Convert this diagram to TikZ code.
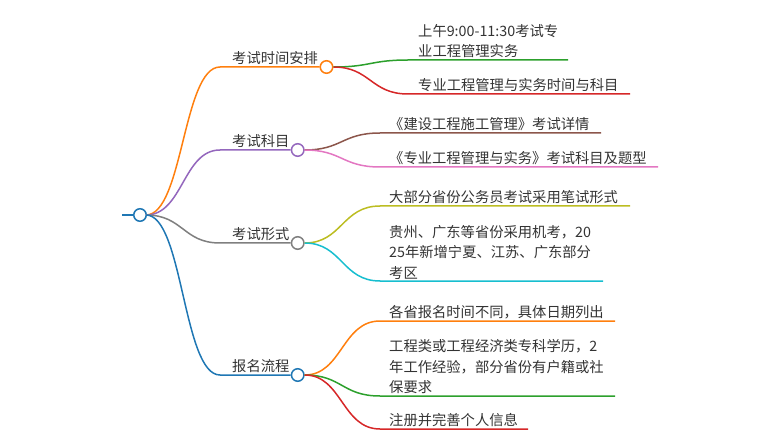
\documentclass[tikz,border=0pt]{standalone}
\usepackage{fontspec}
\newfontfamily\cjk{Noto Sans CJK SC}
\definecolor{cOrange}{HTML}{FF7F0E}
\definecolor{cPurple}{HTML}{9467BD}
\definecolor{cGray}{HTML}{7F7F7F}
\definecolor{cBlue}{HTML}{1F77B4}
\definecolor{cGreen}{HTML}{2CA02C}
\definecolor{cRed}{HTML}{D62728}
\definecolor{cBrown}{HTML}{8C564B}
\definecolor{cPink}{HTML}{E377C2}
\definecolor{cOlive}{HTML}{BCBD22}
\definecolor{cCyan}{HTML}{17BECF}
\definecolor{cText}{HTML}{333333}
\tikzset{
  lbl/.style={anchor=base west, inner sep=0pt, text=cText, font=\cjk\fontsize{14.3}{20.5}\selectfont},
  dot/.style={circle, draw, fill=white, line width=1.5pt, minimum size=12.5pt, inner sep=0pt},
  link/.style={line width=1.5pt},
}
\newcommand{\ml}[1]{\begin{tabular}[b]{@{}l@{}}#1\end{tabular}}
\begin{document}
\begin{tikzpicture}[x=1pt,y=-1pt]
\useasboundingbox (0,0) rectangle (780,441);
% root
\node[dot, draw=cBlue] (root) at (140,215) {};
\coordinate (rl) at (122,215);
\draw[cBlue, line width=2.5pt] (rl) -- (root.west);
% branch nodes
\node[dot, draw=cOrange] (b1) at (326.5,67) {};
\node[dot, draw=cPurple] (b2) at (297.7,150) {};
\node[dot, draw=cGray] (b3) at (297.7,243) {};
\node[dot, draw=cBlue] (b4) at (297.7,375) {};
\coordinate (h1) at (220,67);
\coordinate (h2) at (220,150);
\coordinate (h3) at (220,243);
\coordinate (h4) at (220,375);
\coordinate (rs) at (146,215);
\draw[link, cOrange] (rs) .. controls (183,215) and (183,67) .. (h1) -- (b1.west);
\draw[link, cPurple] (rs) .. controls (183,215) and (183,150) .. (h2) -- (b2.west);
\draw[link, cGray] (rs) .. controls (183,215) and (183,243) .. (h3) -- (b3.west);
\draw[link, cBlue] (rs) .. controls (183,215) and (183,375) .. (h4) -- (b4.west);
\node[lbl] (t1) at (232,63.5) {考试时间安排};
\node[lbl] (t2) at (232,146.5) {考试科目};
\node[lbl] (t3) at (232,239.5) {考试形式};
\node[lbl] (t4) at (232,371.5) {报名流程};
% branch 1 children
\coordinate (a1) at (408,60); \coordinate (e1) at (568,60);
\coordinate (a2) at (408,94); \coordinate (e2) at (630,94);
\draw[link, cGreen] (b1.east) .. controls (370.5,67) and (370.5,60) .. (a1) -- (e1);
\draw[link, cRed] (b1.east) .. controls (370.5,67) and (370.5,94) .. (a2) -- (e2);
\node[lbl] (c1) at (418,57) {\ml{上午9:00-11:30考试专\\业工程管理实务}};
\node[lbl] (c2) at (418,90.5) {专业工程管理与实务时间与科目};
% branch 2 children
\coordinate (a3) at (380,133); \coordinate (e3) at (601,133);
\coordinate (a4) at (380,167); \coordinate (e4) at (658,167);
\draw[link, cBrown] (b2.east) .. controls (342,150) and (342,133) .. (a3) -- (e3);
\draw[link, cPink] (b2.east) .. controls (342,150) and (342,167) .. (a4) -- (e4);
\node[lbl] (c3) at (389,129.5) {《建设工程施工管理》考试详情};
\node[lbl] (c4) at (389,163.5) {《专业工程管理与实务》考试科目及题型};
% branch 3 children
\coordinate (a5) at (380,206); \coordinate (e5) at (630,206);
\coordinate (a6) at (380,281); \coordinate (e6) at (603,281);
\draw[link, cOlive] (b3.east) .. controls (342,243) and (342,206) .. (a5) -- (e5);
\draw[link, cCyan] (b3.east) .. controls (342,243) and (342,281) .. (a6) -- (e6);
\node[lbl] (c5) at (389,202.5) {大部分省份公务员考试采用笔试形式};
\node[lbl] (c6) at (389,278) {\ml{贵州、广东等省份采用机考，20\\25年新增宁夏、江苏、广东部分\\考区}};
% branch 4 children
\coordinate (a7) at (380,321); \coordinate (e7) at (615,321);
\coordinate (a8) at (380,396); \coordinate (e8) at (615,396);
\coordinate (a9) at (380,429); \coordinate (e9) at (528,429);
\draw[link, cOrange] (b4.east) .. controls (342,375) and (342,321) .. (a7) -- (e7);
\draw[link, cGreen] (b4.east) .. controls (342,375) and (342,396) .. (a8) -- (e8);
\draw[link, cRed] (b4.east) .. controls (342,375) and (342,429) .. (a9) -- (e9);
\node[lbl] (c7) at (389,317.5) {各省报名时间不同，具体日期列出};
\node[lbl] (c8) at (389,392.5) {\ml{工程类或工程经济类专科学历，2\\年工作经验，部分省份有户籍或社\\保要求}};
\node[lbl] (c9) at (389,425.5) {注册并完善个人信息};
\end{tikzpicture}
\end{document}
